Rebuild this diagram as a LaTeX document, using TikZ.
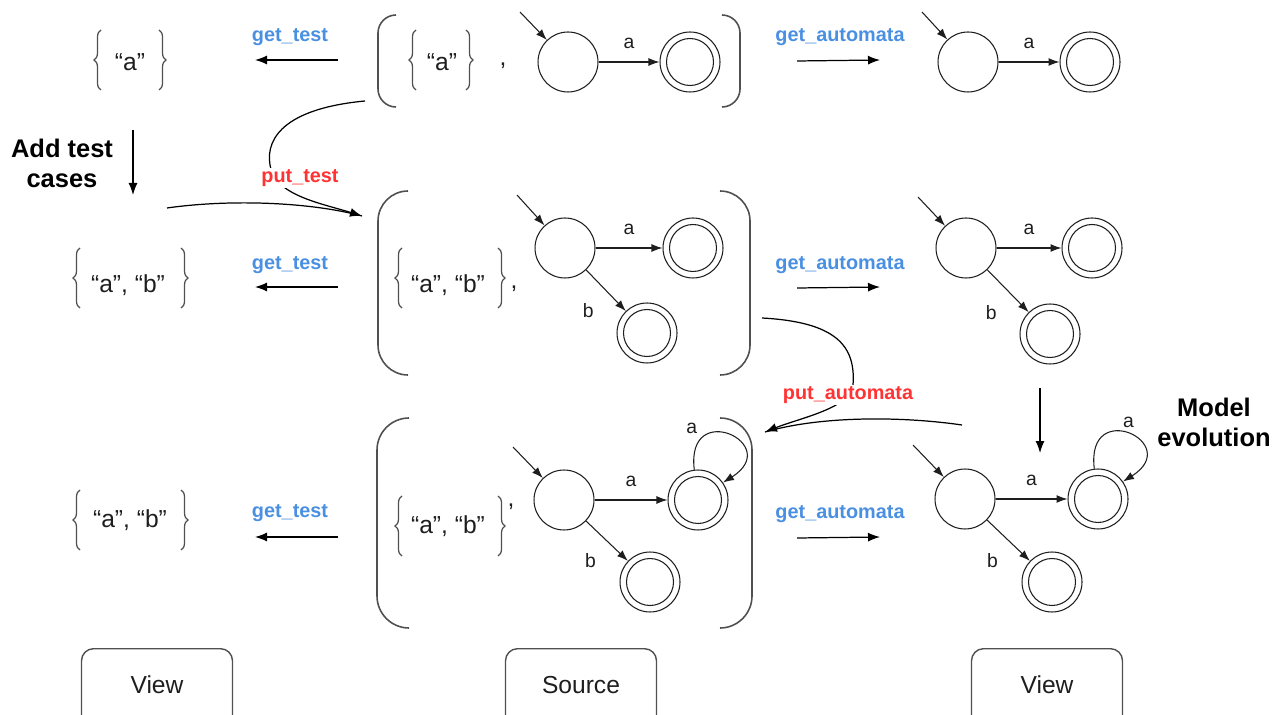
\documentclass[tikz,border=0pt]{standalone}
\usepackage{fontspec}
\setmainfont{Liberation Sans}
\usetikzlibrary{arrows.meta,decorations.pathreplacing,calc}
\definecolor{getblue}{RGB}{74,144,226}
\definecolor{putred}{RGB}{255,51,51}
\definecolor{ink}{RGB}{30,30,30}
\definecolor{framegray}{RGB}{80,80,80}

% a pair of round brackets: left x, right x, top y, bottom y, curl size
\newcommand\parenpair[5]{%
  \draw[paren] (#1+#5,#3) .. controls (#1+0.45*#5,#3) and (#1,#3+0.45*#5) .. (#1,#3+#5)
    -- (#1,#4-#5) .. controls (#1,#4-0.45*#5) and (#1+0.45*#5,#4) .. (#1+#5,#4);
  \draw[paren] (#2-#5,#3) .. controls (#2-0.45*#5,#3) and (#2,#3+0.45*#5) .. (#2,#3+#5)
    -- (#2,#4-#5) .. controls (#2,#4-0.45*#5) and (#2-0.45*#5,#4) .. (#2-#5,#4);}

\begin{document}
\begin{tikzpicture}[x=0.02cm,y=-0.02cm,
  state/.style={circle,draw=ink,line width=0.6pt,minimum size=1.2cm,inner sep=0pt},
  accept/.style={state,path picture={\draw[ink,line width=0.6pt]
      (path picture bounding box.center) circle[radius=0.47cm];}},
  edge/.style={-{Latex[length=2.2mm,width=1.6mm]},ink,line width=0.6pt},
  flow/.style={-{Latex[length=2.4mm,width=1.8mm]},black,line width=0.7pt},
  lbl/.style={font=\fontsize{11}{13}\selectfont,text=ink,inner sep=2pt},
  settext/.style={font=\fontsize{14}{17}\selectfont,text=ink},
  setbrace/.style={decorate,decoration={brace,amplitude=4pt},draw=framegray,line width=0.7pt},
  paren/.style={draw=framegray,line width=0.9pt},
  getlbl/.style={font=\bfseries\fontsize{11.3}{13}\selectfont,text=getblue},
  putlbl/.style={font=\bfseries\fontsize{11.3}{13}\selectfont,text=putred,fill=white,inner sep=1pt},
  note/.style={font=\bfseries\fontsize{14.5}{17}\selectfont,align=center,text=black},
  viewbox/.style={draw=framegray,line width=0.8pt,rounded corners=0.24cm,
      minimum width=3.02cm,minimum height=2cm,anchor=north},
  boxtext/.style={font=\fontsize{14}{17}\selectfont,text=ink}]

\useasboundingbox (0,0) rectangle (1283,715);
\clip (0,0) rectangle (1283,715);

% ---------------- left views (test sets) ----------------
\node[settext] (lv1) at (130,62) {“a”};
\draw[setbrace] (101,90) -- (101,30);
\draw[setbrace] (159,30) -- (159,90);

\node[settext] (lv2) at (128,285) {“a”, “b”};
\draw[setbrace] (80,308) -- (80,248);
\draw[setbrace] (181,248) -- (181,308);

\node[settext] (lv3) at (130,520) {“a”, “b”};
\draw[setbrace] (80,550) -- (80,490);
\draw[setbrace] (181,490) -- (181,550);

% ---------------- sources ----------------
% row 1
\parenpair{378}{740}{15}{107}{18}
\node[settext] (st1) at (442,62) {“a”};
\draw[setbrace] (416,90) -- (416,30);
\draw[setbrace] (466,30) -- (466,90);
\node[settext] (c1) at (503,66) {,};
\node[state] (s1) at (568,62) {};
\node[accept] (f1) at (690,62) {};
\coordinate (i1) at (520,12);
\draw[edge] (i1) -- (s1);
\draw[edge] (s1) -- node[lbl,above=5pt] {a} (f1);

% row 2
\parenpair{378}{750}{191}{375}{30}
\node[settext] (st2) at (448,285) {“a”, “b”};
\draw[setbrace] (402,308) -- (402,248);
\draw[setbrace] (498,248) -- (498,308);
\node[settext] (c2) at (514,289) {,};
\node[state] (s2) at (565,248) {};
\node[accept] (f2a) at (693,248) {};
\node[accept] (f2b) at (647,333) {};
\coordinate (i2) at (517,195);
\draw[edge] (i2) -- (s2);
\draw[edge] (s2) -- node[lbl,above=5pt] {a} (f2a);
\draw[edge] (s2) -- node[lbl,pos=1,left=16pt] {b} (f2b);

% row 3
\parenpair{377}{752}{418}{628}{32}
\node[settext] (st3) at (448,526) {“a”, “b”};
\draw[setbrace] (402,556) -- (402,496);
\draw[setbrace] (498,496) -- (498,556);
\node[settext] (c3) at (511,507) {,};
\node[state] (s3) at (564,500) {};
\node[accept] (f3a) at (698,500) {};
\node[accept] (f3b) at (650,582) {};
\coordinate (i3) at (513,447);
\draw[edge] (i3) -- (s3);
\draw[edge] (s3) -- node[lbl,above=5pt] {a} (f3a);
\draw[edge] (s3) -- node[lbl,pos=1,left=16pt] {b} (f3b);
\draw[edge] (f3a.97) .. controls +(97:1.45cm) and +(32:1.45cm) .. node[lbl,pos=0.22,above left=0pt] {a} (f3a.35);

% ---------------- right views (automata) ----------------
% row 1
\node[state] (r1) at (968,62) {};
\node[accept] (rf1) at (1090,62) {};
\coordinate (ri1) at (922,12);
\draw[edge] (ri1) -- (r1);
\draw[edge] (r1) -- node[lbl,above=5pt] {a} (rf1);

% row 2
\node[state] (r2) at (966,248) {};
\node[accept] (rf2a) at (1092,248) {};
\node[accept] (rf2b) at (1050,334) {};
\coordinate (ri2) at (918,197);
\draw[edge] (ri2) -- (r2);
\draw[edge] (r2) -- node[lbl,above=5pt] {a} (rf2a);
\draw[edge] (r2) -- node[lbl,pos=1,left=16pt] {b} (rf2b);

% row 3
\node[state] (r3) at (965,499) {};
\node[accept] (rf3a) at (1098,499) {};
\node[accept] (rf3b) at (1052,582) {};
\coordinate (ri3) at (913,445);
\draw[edge] (ri3) -- (r3);
\draw[edge] (r3) -- node[lbl,above=5pt] {a} (rf3a);
\draw[edge] (r3) -- node[lbl,pos=1,left=16pt] {b} (rf3b);
\draw[edge] (rf3a.97) .. controls +(97:1.45cm) and +(32:1.45cm) .. node[lbl,pos=0.5,above=1pt] {a} (rf3a.35);

% ---------------- get arrows ----------------
\foreach \r/\y in {1/60,2/287,3/537}{
  \coordinate (gts\r) at (338,\y);
  \coordinate (gte\r) at (255,\y);
  \coordinate (gas\r) at (797,\y+1);
  \coordinate (gae\r) at (880,\y);
}
\node[getlbl] (gtl1) at (290,37) {get\_test};
\node[getlbl] (gtl2) at (290,265) {get\_test};
\node[getlbl] (gtl3) at (290,513) {get\_test};
\node[getlbl] (gal1) at (840,37) {get\_automata};
\node[getlbl] (gal2) at (840,265) {get\_automata};
\node[getlbl] (gal3) at (840,514) {get\_automata};
\foreach \r in {1,2,3}{
  \draw[flow] (gts\r) -- (gte\r);
  \draw[flow] (gas\r) -- (gae\r);
}

% ---------------- edits on the views ----------------
\node[note] (addtc) at (62,163) {Add test\\cases};
\coordinate (at0) at (133,130);
\coordinate (at1) at (133,195);
\draw[flow] (at0) -- (at1);

\node[note] (modev) at (1214,422) {Model\\evolution};
\coordinate (me0) at (1040,388);
\coordinate (me1) at (1040,453);
\draw[flow] (me0) -- (me1);

% ---------------- put_test ----------------
\coordinate (pt0) at (365,101);
\coordinate (pt1) at (362,216);
\coordinate (ptv) at (167,208);
\draw[black,line width=0.7pt] (ptv) .. controls (230,199) and (310,202) .. (pt1);
\draw[flow] (pt0) .. controls (290,108) and (265,135) .. (270,165)
   .. controls (274,195) and (320,203) .. (pt1);
\node[putlbl] (ptl) at (300,178) {put\_test};

% ---------------- put_automata ----------------
\coordinate (pa0) at (762,318);
\coordinate (pa1) at (765,432);
\coordinate (pav) at (962,425);
\draw[black,line width=0.7pt] (pav) .. controls (900,416) and (820,416) .. (pa1);
\draw[flow] (pa0) .. controls (835,322) and (856,345) .. (853,385)
   .. controls (851,408) and (800,418) .. (pa1);
\node[putlbl] (pal) at (848,395) {put\_automata};

% ---------------- bottom labels ----------------
\node[viewbox] (bv1) at (157,648) {};
\node[boxtext] at (157,685) {View};
\node[viewbox] (bsrc) at (581,648) {};
\node[boxtext] at (581,685) {Source};
\node[viewbox] (bv2) at (1047,648) {};
\node[boxtext] at (1047,685) {View};

\end{tikzpicture}
\end{document}
